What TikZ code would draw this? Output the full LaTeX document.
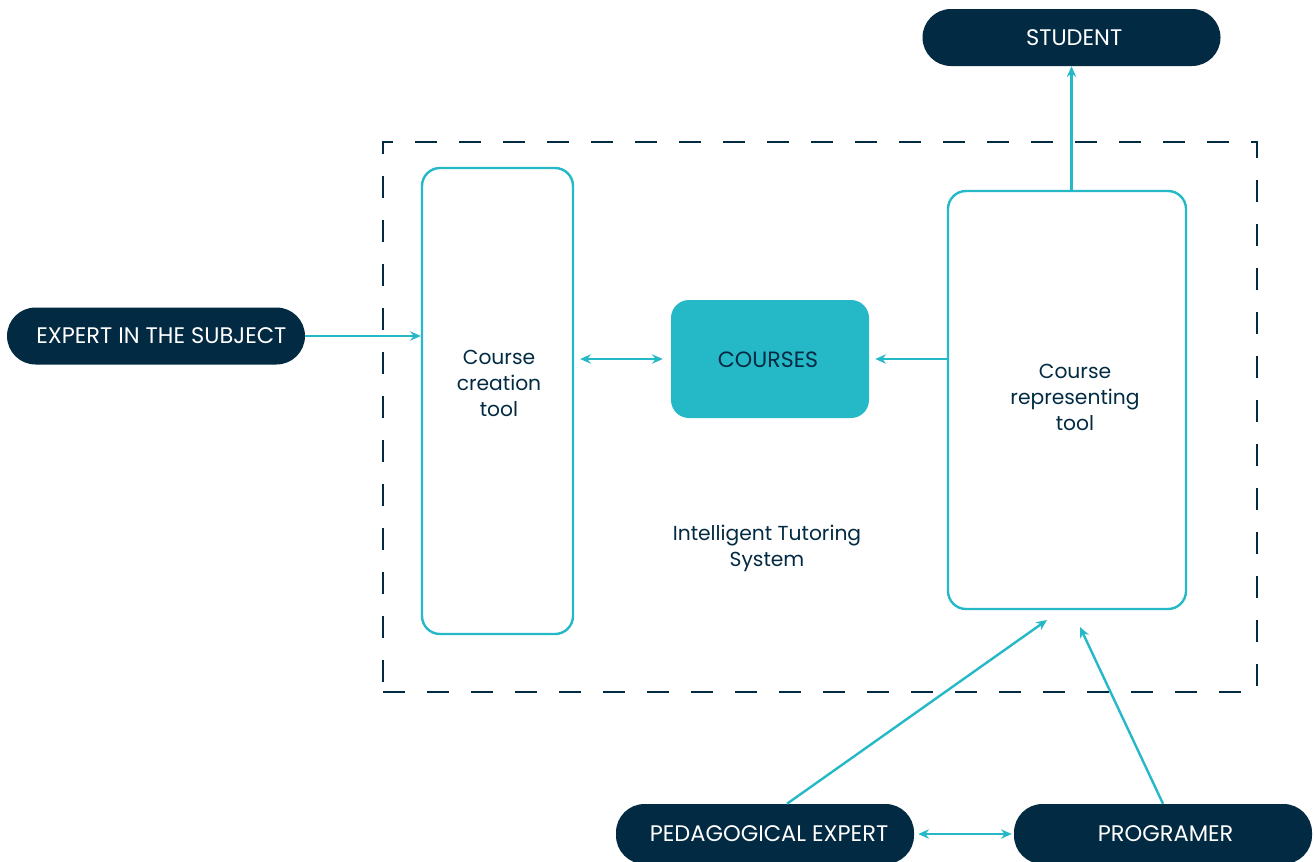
\documentclass[tikz,border=0pt]{standalone}
\usepackage{fontspec}
\setmainfont{Poppins}
\usetikzlibrary{arrows.meta,calc}
\definecolor{navy}{HTML}{022A42}
\definecolor{teal}{HTML}{25B9C7}
\begin{document}
\begin{tikzpicture}[x=0.75pt,y=-0.75pt,
  actor/.style={fill=navy,draw=none,rounded corners=28.5*0.75pt,minimum width=298*0.75pt,minimum height=57*0.75pt,text=white,font=\fontsize{16.9}{16}\selectfont,inner sep=0pt},
  toolbox/.style={draw=teal,line width=1.8pt,rounded corners=18*0.75pt,inner sep=0pt},
  lbl/.style={text=navy,font=\fontsize{15.2}{19.5}\selectfont,align=center,inner sep=0pt},
  conn/.style={draw=teal,line width=1.8pt,-{Stealth[length=8pt,width=7pt]}},
  dconn/.style={draw=teal,line width=1.8pt,{Stealth[length=8pt,width=7pt]}-{Stealth[length=8pt,width=7pt]}}]
\useasboundingbox (0,0) rectangle (1314,861);
% system boundary
\node[draw=navy,line width=2.2pt,dash pattern=on 16.5pt off 16.5pt,minimum width=874*0.75pt,minimum height=550*0.75pt,inner sep=0pt] (its) at (820,417) {};
% boxes
\node[toolbox,minimum width=151*0.75pt,minimum height=466*0.75pt] (ctool) at (497.5,401) {};
\node[toolbox,minimum width=238*0.75pt,minimum height=418*0.75pt] (rtool) at (1067,400) {};
\node[fill=teal,rounded corners=18*0.75pt,minimum width=198*0.75pt,minimum height=118*0.75pt,inner sep=0pt] (courses) at (770,359) {};
\node[lbl,font=\fontsize{16.6}{19.5}\selectfont] (courseslbl) at (768,360) {COURSES};
\node[lbl] (ctoollbl) at (499,383) {Course\\creation\\tool};
\node[lbl] (rtoollbl) at (1075,397) {Course\\representing\\tool};
\node[lbl] (itslbl) at (767,548) {Intelligent Tutoring\\System};
% actors
\node[actor] (student) at (1071.5,37.5) {\hspace*{4pt}STUDENT};
\node[actor] (expert) at (156,336) {\hspace*{8pt}EXPERT IN THE SUBJECT};
\node[actor,minimum height=60*0.75pt] (ped) at (765,834) {\hspace*{6pt}PEDAGOGICAL EXPERT};
\node[actor,minimum height=60*0.75pt] (prog) at (1163,834) {\hspace*{4pt}PROGRAMER};
% connector ends
\coordinate (pedtip) at (1047,620);
\coordinate (progtip) at (1080,627);
% connectors
\draw[conn] (expert.east) -- (ctool.west |- expert.east);
\draw[dconn,shorten <=4.5pt,shorten >=6pt] (ctool.east |- courses.west) -- (courses.west);
\draw[conn,shorten >=4.5pt] (rtool.west |- courses.east) -- (courses.east);
\draw[conn] (rtool.north -| student.south) -- (student.south);
\draw[conn] ($(ped.north)+(22,0)$) -- (pedtip);
\draw[conn] (prog.north) -- (progtip);
\draw[dconn,shorten <=3pt,shorten >=1.5pt] (ped.east) -- (prog.west);
\end{tikzpicture}
\end{document}
